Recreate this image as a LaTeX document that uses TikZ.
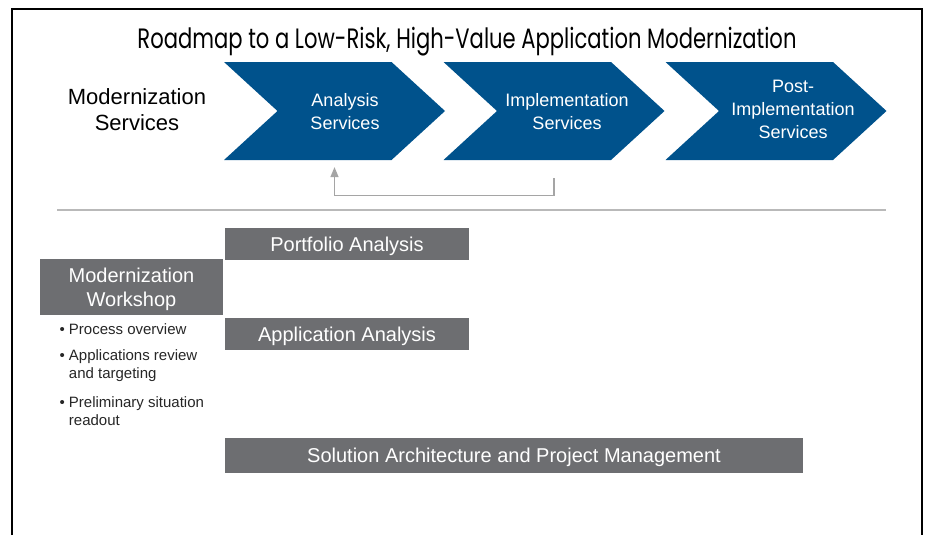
\documentclass[tikz,border=0pt]{standalone}
\usepackage{fontspec}
\setmainfont{Liberation Sans}
\newfontfamily\titlefont{Poppins}
\usepackage{tikz}
\usetikzlibrary{shapes.symbols, positioning, arrows}

\definecolor{chevblue}{RGB}{0,82,140}
\definecolor{boxgray}{RGB}{109,110,113}
\definecolor{rulegray}{RGB}{185,185,185}
\definecolor{loopgray}{RGB}{165,165,165}

\begin{document}
\begin{tikzpicture}[x=1pt, y=-1pt, >=triangle 45,
    chev/.style={shape=signal, signal from=west, signal to=east, signal pointer angle=85,
        fill=chevblue, minimum width=221pt, minimum height=98pt, inner sep=0pt},
    chevtext/.style={text=white, align=center, font=\fontsize{18}{23}\selectfont},
    graybox/.style={fill=boxgray, text=white, align=center, inner sep=0pt, text height=18.5pt,
        font=\fontsize{20}{24}\selectfont},
    point/.style={anchor=west, align=left, text=black!85, font=\fontsize{15}{18}\selectfont}]
    \useasboundingbox (0,0) rectangle (928,535);
    % frame
    \draw[line width=2.5pt] (12,535) -- (12,9) -- (922,9) -- (922,535);
    \node[anchor=base, font=\titlefont\fontsize{28}{32}\selectfont] (title) at (467,49)
        {\resizebox{659pt}{\height}{Roadmap to a Low-Risk, High-Value Application Modernization}};
    % services row
    \node[align=center, font=\fontsize{22}{26}\selectfont] (services) at (137,110) {Modernization\\Services};
    \node[chev] (ana) at (334.5,111) {};
    \node[chev] (impl) at (554,111) {};
    \node[chev] (post) at (776,111) {};
    \node[chevtext] (anatxt) at (345,111.5) {Analysis\\Services};
    \node[chevtext] (impltxt) at (567,111.5) {Implementation\\Services};
    \node[chevtext] (posttxt) at (793,109) {Post-\\Implementation\\Services};
    \draw[->, loopgray, line width=1.3pt] ([yshift=-18pt]impl.south) -- ++(0,17) -| ([yshift=-7pt]ana.south);
    \draw[rulegray, line width=1.5pt] (57,210) -- (886,210);
    % activities
    \node[graybox, minimum width=244pt, minimum height=32pt] (port) at (347,244) {Portfolio Analysis};
    \node[graybox, minimum width=183pt, minimum height=56pt, text height=42.5pt] (shop) at (131.5,287) {Modernization\\Workshop};
    \node[graybox, minimum width=244pt, minimum height=32pt] (app) at (347,334) {Application Analysis};
    \node[graybox, minimum width=578pt, minimum height=35pt] (sol) at (514,455.5) {Solution Architecture and Project Management};
    \node[point] (p1) at (56,329) {\textbullet\ Process overview};
    \node[point] (p2) at (56,366) {\textbullet\ Applications review\\\phantom{\textbullet\ }and targeting};
    \node[point] (p3) at (56,411.5) {\textbullet\ Preliminary situation\\\phantom{\textbullet\ }readout};
\end{tikzpicture}
\end{document}
